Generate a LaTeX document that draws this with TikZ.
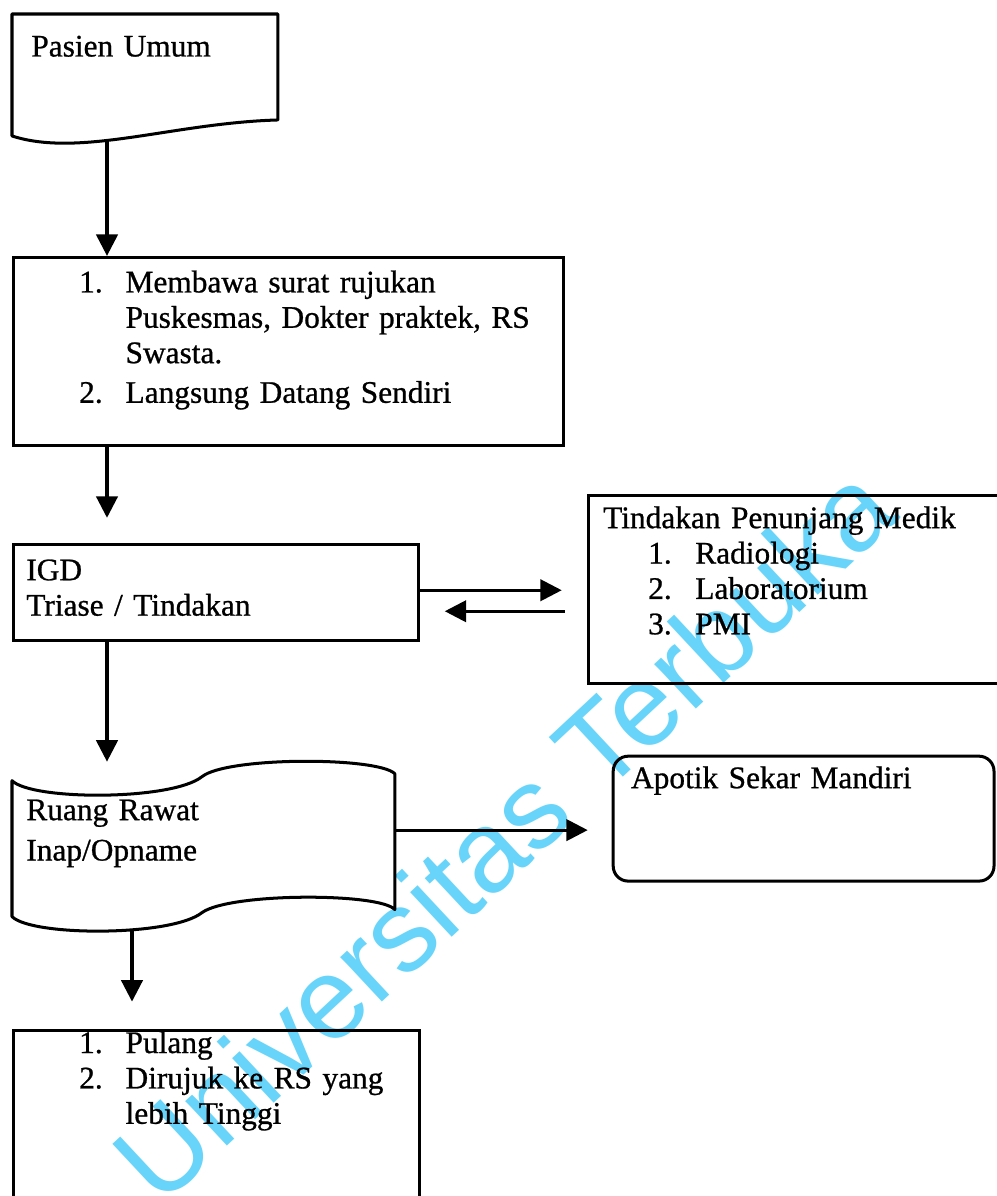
\documentclass[tikz,border=0pt]{standalone}
\usepackage{fontspec}
\setmainfont{Liberation Serif}[FakeBold=0.8]
\newfontfamily\wmfont{Liberation Sans}
\usepackage{xcolor}
\definecolor{rsInk}{RGB}{0,0,0}
\definecolor{utCyan}{RGB}{105,212,250}
\usetikzlibrary{positioning,arrows.meta,calc}
\newcommand{\flowfont}{\fontsize{12.5}{14.1}\selectfont}
\tikzset{
  panel/.style={rectangle,draw=rsInk,line width=1.2pt,inner sep=0pt,
    align=left,text width=#1,font=\flowfont},
  panel/.default=5.6cm,
  outline/.style={draw=rsInk,line width=1.2pt,line join=round},
  arrow/.style={-{Triangle[length=0.3cm,width=0.3cm]},draw=rsInk,line width=1.2pt},
  wmark/.style={text=utCyan,font=\wmfont\fontsize{46}{52}\selectfont,inner sep=0pt}
}

\begin{document}
\begin{tikzpicture}[x=0.014cm,y=-0.014cm]
  \useasboundingbox (0,0) rectangle (997,1196);
  \clip (0,0) rectangle (997,1196);
  \node[wmark,rotate=43] (wm) at (503,833) {Universitas Terbuka};

  \node[panel=3.682cm,draw=none,anchor=north west,
    text height=0.574cm,text depth=0.868cm] (pasien) at (12,14)
    {\hspace*{0.25cm}Pasien Umum};
  \node[panel=7.70cm,below=1.904cm of pasien.south west,anchor=north west,
    text height=0.49cm,text depth=2.142cm] (rujukan)
    {\begin{tabular}[t]{@{\hspace{0.92cm}}p{0.65cm}@{}l@{}}
      1. & Membawa surat rujukan\\
         & Puskesmas, Dokter praktek, RS\\
         & Swasta.\\[0.06cm]
      2. & Langsung Datang Sendiri
     \end{tabular}};
  \node[panel=5.67cm,below=1.344cm of rujukan.south west,anchor=north west,
    text height=0.504cm,text depth=0.84cm] (igd)
    {\begin{tabular}[t]{@{\hspace{0.18cm}}l@{}}
      IGD\\
      Triase / Tindakan
     \end{tabular}};
  \node[panel=5.992cm,above right=0.686cm and 2.338cm of igd.north east,anchor=north west,
    text height=0.46cm,text depth=2.172cm] (tindakan)
    {\begin{tabular}[t]{@{\hspace{0.21cm}}l@{}}
      Tindakan Penunjang Medik\\
      \hspace{0.63cm}\makebox[0.66cm][l]{1.}Radiologi\\
      \hspace{0.63cm}\makebox[0.66cm][l]{2.}Laboratorium\\
      \hspace{0.63cm}\makebox[0.66cm][l]{3.}PMI
     \end{tabular}};
  \node[panel=5.32cm,draw=none,below=1.848cm of igd.south west,anchor=north west,
    text height=0.63cm,text depth=1.33cm] (ranap)
    {\begin{tabular}[t]{@{\hspace{0.18cm}}l@{}}
      Ruang Rawat\\[0.07cm]
      Inap/Opname
     \end{tabular}};
  \node[panel=5.334cm,rounded corners=0.21cm,
    above right=0.266cm and 3.038cm of ranap.north east,anchor=north west,
    text height=0.448cm,text depth=1.302cm] (apotik)
    {\hspace*{0.25cm}Apotik Sekar Mandiri};
  \node[panel=5.684cm,below=1.568cm of ranap.south west,anchor=north west,
    text height=0.322cm,text depth=2.45cm] (pulang)
    {\begin{tabular}[t]{@{\hspace{0.92cm}}p{0.65cm}@{}l@{}}
      1. & Pulang\\
      2. & Dirujuk ke RS yang\\
         & lebih Tinggi
     \end{tabular}};

  \draw[outline] ([shift={(0,16)}]pasien.south west) -- (pasien.north west)
    -- (pasien.north east) -- (pasien.south east)
    .. controls ([shift={(-105,3)}]pasien.south east) and ([shift={(68,38)}]pasien.south west)
    .. ([shift={(0,16)}]pasien.south west) -- cycle;
  \draw[outline] ([shift={(0,7)}]ranap.north west)
    .. controls ([shift={(20,27)}]ranap.north west) and ([shift={(160,27)}]ranap.north west)
    .. ([shift={(190,3)}]ranap.north west)
    .. controls ([shift={(215,-17)}]ranap.north west) and ([shift={(365,-17)}]ranap.north west)
    .. (ranap.north east)
    -- ([shift={(0,-7)}]ranap.south east)
    .. controls ([shift={(-15,-24)}]ranap.south east) and ([shift={(-165,-24)}]ranap.south east)
    .. ([shift={(190,-4)}]ranap.south west)
    .. controls ([shift={(160,20)}]ranap.south west) and ([shift={(20,20)}]ranap.south west)
    .. (ranap.south west) -- cycle;

  \coordinate (spine) at (107,0);
  \coordinate (pasienB) at ([shift={(95,21)}]pasien.south west);
  \coordinate (ranapB) at ([shift={(120,13)}]ranap.south west);
  \coordinate (igdE1) at ([shift={(0,-2)}]igd.east);
  \coordinate (igdE2) at ([shift={(0,19)}]igd.east);
  \coordinate (ranapE) at ([shift={(0,-15)}]ranap.east);

  \draw[arrow] (pasienB) -- (spine |- rujukan.north);
  \draw[arrow,shorten >=0.35cm] (spine |- rujukan.south) -- (spine |- igd.north);
  \draw[arrow,shorten >=0.35cm] (igdE1) -- (igdE1 -| tindakan.west);
  \draw[arrow,shorten <=0.308cm,shorten >=0.35cm] (igdE2 -| tindakan.west) -- (igdE2);
  \draw[arrow,shorten >=0.168cm] (spine |- igd.south) -- (spine |- ranap.north);
  \draw[arrow,shorten >=0.336cm] (ranapE) -- (ranapE -| apotik.west);
  \draw[arrow,shorten >=0.378cm] (ranapB) -- (ranapB |- pulang.north);
\end{tikzpicture}
\end{document}
